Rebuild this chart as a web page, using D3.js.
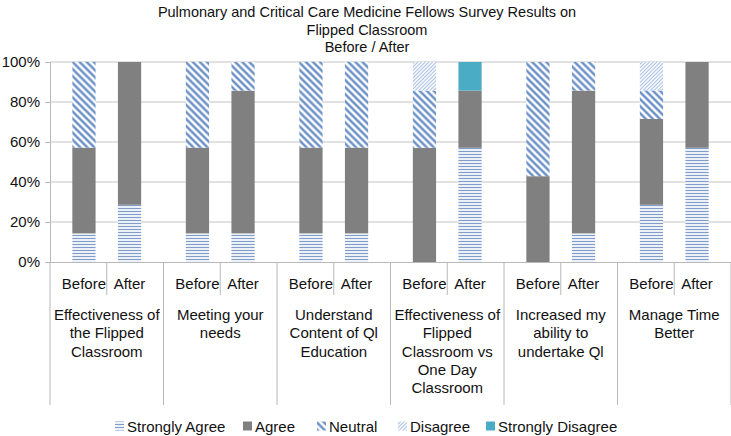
<!DOCTYPE html>
<html>
<head>
<meta charset="utf-8">
<script src="https://cdn.jsdelivr.net/npm/d3@7"></script>
<style>
  body { margin: 0; background: #fff; }
  svg { font-family: "Liberation Sans", Arial, sans-serif; }
</style>
</head>
<body>
<svg id="chart" width="731" height="436"></svg>
<script>
// survey groups and their (manually wrapped) labels
const groups = ["g1", "g2", "g3", "g4", "g5", "g6"];
const groupLabels = [
  ["Effectiveness of", "the Flipped", "Classroom"],
  ["Meeting your", "needs"],
  ["Understand", "Content of Ql", "Education"],
  ["Effectiveness of", "Flipped", "Classroom vs", "One Day", "Classroom"],
  ["Increased my", "ability to", "undertake Ql"],
  ["Manage Time", "Better"]
];
const phases = ["Before", "After"];
const seriesNames = ["Strongly Agree", "Agree", "Neutral", "Disagree", "Strongly Disagree"];

// percent per bar, order: g1 Before, g1 After, g2 Before, ...
const stronglyAgree    = [14.3, 28.6, 14.3, 14.3, 14.3, 14.3,  0.0, 57.1,  0.0, 14.3, 28.6, 57.1];
const agree            = [42.9, 71.4, 42.9, 71.4, 42.9, 42.9, 57.1, 28.6, 42.9, 71.4, 42.9, 42.9];
const neutral          = [42.9,  0.0, 42.9, 14.3, 42.9, 42.9, 28.6,  0.0, 57.1, 14.3, 14.3,  0.0];
const disagree         = [ 0.0,  0.0,  0.0,  0.0,  0.0,  0.0, 14.3,  0.0,  0.0,  0.0, 14.3,  0.0];
const stronglyDisagree = [ 0.0,  0.0,  0.0,  0.0,  0.0,  0.0,  0.0, 14.3,  0.0,  0.0,  0.0,  0.0];

const yTicks = [0, 20, 40, 60, 80, 100];

const svg = d3.select("#chart");
const margin = { left: 50, right: 0, top: 62, bottom: 174 };
const W = 731, H = 436;
const plotBottom = H - margin.bottom;

// patterns
const defs = svg.append("defs");
function linePattern(id, size, angle, color, width, bg) {
  const p = defs.append("pattern").attr("id", id)
    .attr("patternUnits", "userSpaceOnUse")
    .attr("width", size).attr("height", size)
    .attr("patternTransform", `rotate(${angle})`);
  p.append("rect").attr("width", size).attr("height", size).attr("fill", bg);
  p.append("line").attr("x1", 0).attr("x2", size).attr("y1", size / 2).attr("y2", size / 2)
    .attr("stroke", color).attr("stroke-width", width);
}
linePattern("pSA", 3, 0, "#7f9ccb", 1.3, "#fff");
linePattern("pN", 5, 45, "#5b84c0", 2.2, "#fff");
linePattern("pD", 2.6, -45, "#a9c0e3", 1.1, "#fff");

const fills = ["url(#pSA)", "#808080", "url(#pN)", "url(#pD)", "#4bacc6"];
const legendFills = ["url(#pSA)", "#808080", "url(#pN)", "url(#pD)", "#4bacc6"];

const rows = stronglyAgree.map((d, i) => ({
  key: groups[Math.floor(i / 2)] + "-" + phases[i % 2],
  group: groups[Math.floor(i / 2)],
  phase: phases[i % 2],
  "Strongly Agree": d,
  "Agree": agree[i],
  "Neutral": neutral[i],
  "Disagree": disagree[i],
  "Strongly Disagree": stronglyDisagree[i]
}));

const x0 = d3.scaleBand().domain(groups).range([margin.left, W - margin.right]);
const x1 = d3.scaleBand().domain(phases).range([0, x0.bandwidth()]).padding(0.49);
const y = d3.scaleLinear().domain([0, 100]).range([plotBottom, margin.top]);

// gridlines
svg.append("g").selectAll("line").data(yTicks.filter(t => t > 0)).join("line")
  .attr("x1", margin.left).attr("x2", W)
  .attr("y1", d => y(d)).attr("y2", d => y(d))
  .attr("stroke", "#c4c4c4").attr("stroke-width", 1);

// bars
const stack = d3.stack().keys(seriesNames);
const layers = stack(rows);
svg.append("g").selectAll("g").data(layers).join("g")
  .attr("fill", (d, i) => fills[i])
  .selectAll("rect").data(d => d).join("rect")
  .attr("x", d => x0(d.data.group) + x1(d.data.phase))
  .attr("width", x1.bandwidth())
  .attr("y", d => y(d[1]))
  .attr("height", d => Math.max(0, y(d[0]) - y(d[1])));

// y axis
const yAxis = d3.axisLeft(y).tickValues(yTicks).tickFormat(d => d + "%").tickSize(5).tickPadding(5);
const yg = svg.append("g").attr("transform", `translate(${margin.left},0)`).call(yAxis);
yg.select(".domain").attr("stroke", "#b8b8b8");
yg.selectAll(".tick line").attr("stroke", "#b8b8b8");
yg.selectAll("text").attr("font-size", 15).attr("fill", "#111");

// x axis line
svg.append("line").attr("x1", margin.left).attr("x2", W)
  .attr("y1", plotBottom + 0.5).attr("y2", plotBottom + 0.5)
  .attr("stroke", "#b8b8b8");

// group dividers
const groupEdges = groups.map(g => x0(g)).concat([x0(groups[groups.length - 1]) + x0.bandwidth()]);
svg.append("g").selectAll("line").data(groupEdges).join("line")
  .attr("x1", d => d).attr("x2", d => d)
  .attr("y1", plotBottom).attr("y2", 405)
  .attr("stroke", "#b8b8b8");

// before/after dividers
svg.append("g").selectAll("line").data(groups).join("line")
  .attr("x1", g => x0(g) + x0.bandwidth() / 2).attr("x2", g => x0(g) + x0.bandwidth() / 2)
  .attr("y1", plotBottom).attr("y2", 295)
  .attr("stroke", "#b8b8b8");

// phase labels
svg.append("g").selectAll("text").data(rows).join("text")
  .attr("x", d => x0(d.group) + x1(d.phase) + x1.bandwidth() / 2)
  .attr("y", 289)
  .attr("text-anchor", "middle").attr("font-size", 15).attr("fill", "#111")
  .text(d => d.phase);

// group labels
const gl = svg.append("g").selectAll("text").data(groups).join("text")
  .attr("text-anchor", "middle").attr("font-size", 15).attr("fill", "#111");
gl.each(function (g, i) {
  d3.select(this).selectAll("tspan").data(groupLabels[i]).join("tspan")
    .attr("x", x0(g) + x0.bandwidth() / 2)
    .attr("y", (d, j) => 320 + j * 18.3)
    .text(d => d);
});

// title
const title = ["Pulmonary and Critical Care Medicine Fellows Survey Results on", "Flipped Classroom", "Before / After"];
svg.append("g").selectAll("text").data(title).join("text")
  .attr("x", 367).attr("y", (d, i) => 17 + i * 17.5)
  .attr("text-anchor", "middle").attr("font-size", 14.5).attr("fill", "#111")
  .text(d => d);

// legend
const legendX = [115, 243, 317, 398, 486];
const lg = svg.append("g").selectAll("g").data(seriesNames).join("g")
  .attr("transform", (d, i) => `translate(${legendX[i]},426)`);
lg.append("rect").attr("x", 0).attr("y", -4.5).attr("width", 9).attr("height", 9)
  .attr("fill", (d, i) => legendFills[i]);
lg.append("text").attr("x", 12).attr("y", 5.5).attr("font-size", 15).attr("fill", "#111")
  .text(d => d);
</script>
</body>
</html>
